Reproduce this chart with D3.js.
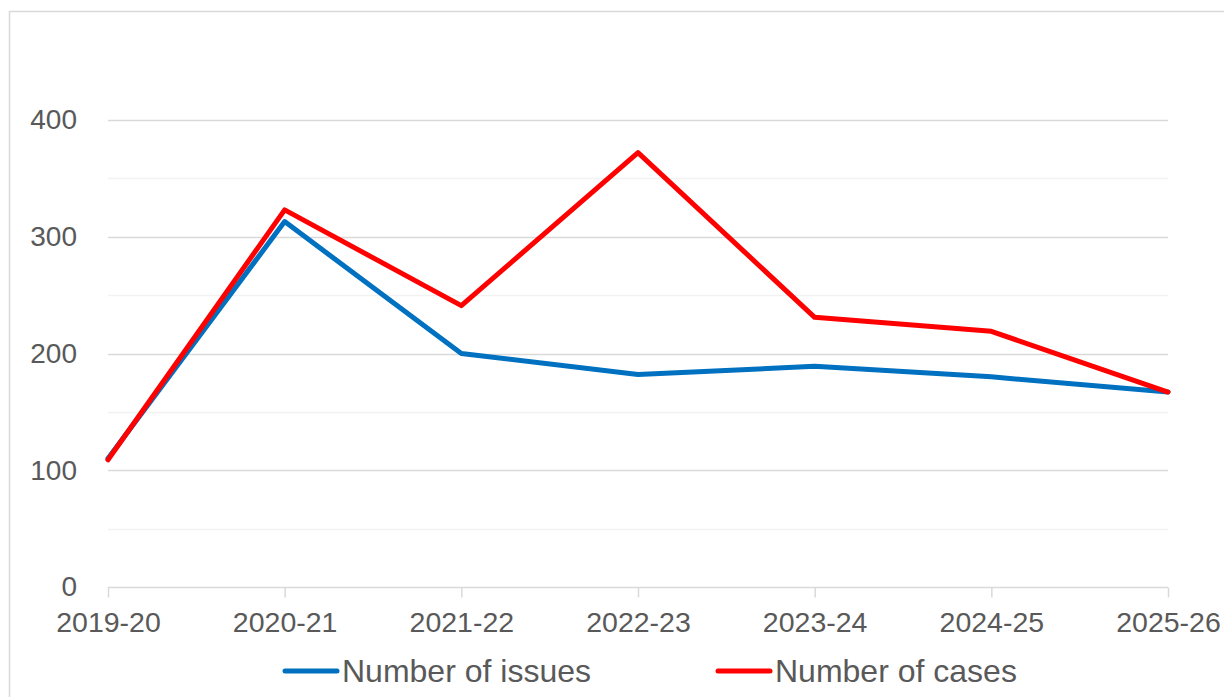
<!DOCTYPE html>
<html>
<head>
<meta charset="utf-8">
<script src="https://cdn.jsdelivr.net/npm/d3@7"></script>
<style>
  html, body { margin: 0; padding: 0; background: #fff; }
  svg { display: block; }
</style>
</head>
<body>
<script>
const categories = ["2019-20", "2020-21", "2021-22", "2022-23", "2023-24", "2024-25", "2025-26"];
const issues = [110, 313, 200, 182, 189, 180, 167];
const cases = [109, 323, 241, 372, 231, 219, 167];
const seriesNames = ["Number of issues", "Number of cases"];
const yTicks = [0, 100, 200, 300, 400];
const yMinorTicks = [50, 150, 250, 350];

const W = 1224, H = 697;
const svg = d3.select("body").append("svg").attr("width", W).attr("height", H);

// chart border
svg.append("rect").attr("x", 9.5).attr("y", 11.5).attr("width", W + 10).attr("height", H + 10)
  .attr("fill", "#fff").attr("stroke", "#D9D9D9").attr("stroke-width", 1.5);

const x = d3.scalePoint().domain(categories).range([108, 1168]);
const y = d3.scaleLinear().domain([0, 400]).range([587, 120]);

// minor gridlines
svg.append("g").selectAll("line").data(yMinorTicks).join("line")
  .attr("x1", 108).attr("x2", 1168)
  .attr("y1", d => Math.round(y(d)) + 0.5).attr("y2", d => Math.round(y(d)) + 0.5)
  .attr("stroke", "#F2F2F2").attr("stroke-width", 1.5);

// major gridlines
svg.append("g").selectAll("line").data(yTicks.filter(d => d > 0)).join("line")
  .attr("x1", 108).attr("x2", 1168)
  .attr("y1", d => Math.round(y(d)) + 0.5).attr("y2", d => Math.round(y(d)) + 0.5)
  .attr("stroke", "#D9D9D9").attr("stroke-width", 1.5);

// y axis labels
const yAxis = d3.axisLeft(y).tickValues(yTicks).tickSize(0).tickPadding(31);
const gy = svg.append("g").attr("transform", "translate(108,0)").call(yAxis);
gy.select(".domain").remove();
gy.selectAll("text").attr("fill", "#595959")
  .style("font-family", "'Liberation Sans', Arial, sans-serif").style("font-size", "28px");

// x axis
const xAxis = d3.axisBottom(x).tickSize(10).tickPadding(14);
const gx = svg.append("g").attr("transform", "translate(0,587.5)").call(xAxis);
gx.select(".domain").attr("stroke", "#D9D9D9").attr("stroke-width", 1.5).attr("d", "M108,0H1168");
gx.selectAll(".tick line").attr("stroke", "#D9D9D9").attr("stroke-width", 1.5);
gx.selectAll("text").attr("fill", "#595959")
  .style("font-family", "'Liberation Sans', Arial, sans-serif").style("font-size", "28.5px");

const line = d3.line().x((d, i) => x(categories[i])).y(d => y(d));

svg.append("path").datum(issues).attr("d", line)
  .attr("fill", "none").attr("stroke", "#0070C0").attr("stroke-width", 5)
  .attr("stroke-linejoin", "round").attr("stroke-linecap", "round");
svg.append("path").datum(cases).attr("d", line)
  .attr("fill", "none").attr("stroke", "#FF0000").attr("stroke-width", 5)
  .attr("stroke-linejoin", "round").attr("stroke-linecap", "round");

// legend
const legend = [
  { name: seriesNames[0], color: "#0070C0", x1: 285, x2: 337, tx: 342 },
  { name: seriesNames[1], color: "#FF0000", x1: 718, x2: 770, tx: 775 }
];
const lg = svg.append("g");
legend.forEach(l => {
  lg.append("line").attr("x1", l.x1).attr("x2", l.x2).attr("y1", 671).attr("y2", 671)
    .attr("stroke", l.color).attr("stroke-width", 5).attr("stroke-linecap", "round");
  lg.append("text").attr("x", l.tx).attr("y", 682).text(l.name)
    .attr("fill", "#595959")
    .style("font-family", "'Liberation Sans', Arial, sans-serif").style("font-size", "32px");
});
</script>
</body>
</html>
